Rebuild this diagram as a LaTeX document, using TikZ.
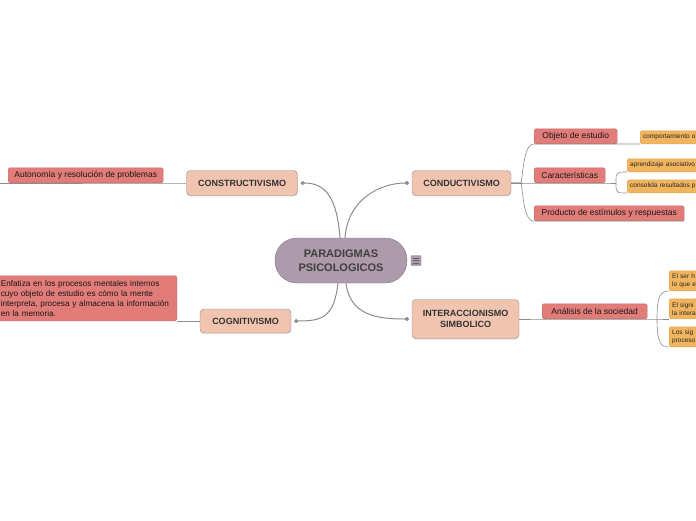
\documentclass[tikz,border=0pt]{standalone}
\usepackage{fontspec}
\setmainfont{Liberation Sans}
\usetikzlibrary{arrows.meta,shadows}
\definecolor{rootfill}{RGB}{173,154,170}
\definecolor{rootline}{RGB}{128,115,126}
\definecolor{topicfill}{RGB}{241,196,176}
\definecolor{subfill}{RGB}{226,124,121}
\definecolor{subline}{RGB}{205,105,105}
\definecolor{leaffill}{RGB}{241,181,96}
\definecolor{leafline}{RGB}{225,165,85}
\definecolor{wire}{RGB}{140,140,140}
\begin{document}
\begin{tikzpicture}[x=1pt,y=-1pt,
  root/.style={draw=rootline,fill=rootfill,rounded corners=22pt,minimum width=132,minimum height=45,align=center,text=black!75,font=\bfseries\fontsize{11}{14}\selectfont},
  topic/.style={draw=black!45,fill=topicfill,rounded corners=4pt,align=center,inner sep=0pt,text=black!80,font=\bfseries\fontsize{9}{11.5}\selectfont,drop shadow={shadow xshift=0pt,shadow yshift=-1.2pt,opacity=0.2}},
  subtopic/.style={draw=subline,fill=subfill,rounded corners=1.5pt,anchor=south west,inner sep=0pt,minimum height=15,text=black!90,font=\fontsize{8.5}{10}\selectfont},
  leaf/.style={draw=leafline,fill=leaffill,rounded corners=1.5pt,anchor=south west,inner ysep=0pt,inner xsep=3pt,minimum height=13,text width=70,align=left,text=black!85,font=\fontsize{6.5}{8}\selectfont},
  wire/.style={draw=wire,line width=0.6pt},
  trunk/.style={draw=wire,line width=1pt,-{Circle[length=4pt]},shorten >=3pt}]
\useasboundingbox (0,0) rectangle (696,520);
\clip (0,0) rectangle (696,520);

\node[root] (root) at (341,260.5) {PARADIGMAS\\PSICOLOGICOS};
\node[draw=rootline,fill=rootfill,minimum size=10,inner sep=0pt,rounded corners=1pt] (menu) at (416,260.5) {};
\foreach \dy in {-2.5,0,2.5}
  \draw[black!60,line width=0.6pt] ([xshift=-3pt,yshift=\dy pt]menu.center) -- ++(6,0);

\node[topic,minimum width=99,minimum height=25] (conduct) at (461.5,183) {CONDUCTIVISMO};
\node[topic,minimum width=111,minimum height=25] (constr) at (242,183) {CONSTRUCTIVISMO};
\node[topic,minimum width=91,minimum height=24] (cognit) at (245.5,321) {COGNITIVISMO};
\node[topic,minimum width=107,minimum height=39] (interac) at (465.5,319) {INTERACCIONISMO\\SIMBOLICO};

\node[subtopic,minimum width=83] (objeto) at (534,144) {Objeto de estudio};
\node[subtopic,minimum width=71] (caract) at (534,183) {Características};
\node[subtopic,minimum width=150] (producto) at (534,221) {Producto de estímulos y respuestas};
\node[subtopic,minimum width=105] (analisis) at (542,319) {Análisis de la sociedad};
\node[subtopic,minimum width=155] (autonomia) at (8,183) {Autonomía y resolución de problemas};
\node[subtopic,anchor=south east,align=left,text width=172,inner xsep=4pt,minimum height=45,font=\fontsize{8.2}{10}\selectfont] (enfatiza) at (177,321)
  {Enfatiza en los procesos mentales internos\\cuyo objeto de estudio es cómo la mente\\interpreta, procesa y almacena la información\\en la memoria.};

\node[leaf] (comport) at (640,144) {comportamiento o};
\node[leaf] (asoc) at (627,172) {aprendizaje asociativo};
\node[leaf] (consol) at (627,193) {consolida resultados p};
\node[leaf,minimum height=20] (ser) at (669,291) {El ser h\\lo que e};
\node[leaf,minimum height=20] (signi) at (669,319) {El signi\\la intera};
\node[leaf,minimum height=20] (sig) at (669,347) {Los sig\\proceso};

% ramas del centro
\draw[trunk] ([xshift=4pt]root.north) .. controls +(3,-40) and +(-30,0) .. (conduct.west);
\draw[trunk] ([xshift=-1pt]root.north) .. controls +(-3,-40) and +(28,0) .. (constr.east);
\draw[trunk] ([xshift=-3pt]root.south) .. controls +(-4,35) and +(30,0) .. (cognit.east);
\draw[trunk] ([xshift=5pt]root.south) .. controls +(4,32) and +(-35,0) .. (interac.west);

\coordinate (cfork) at (616,183);
\coordinate (ifork) at (657,319);
\coordinate (edge) at (0,183);
\draw[wire] (conduct.east) -- ++(10,0) .. controls +(3,-25) and +(-8,0) .. (objeto.south west) -- (objeto.south east) -- (comport.south west);
\draw[wire] (conduct.east) -- (caract.south west) -- (caract.south east) -- (cfork);
\draw[wire] (conduct.east) -- ++(10,0) .. controls +(3,25) and +(-8,0) .. (producto.south west) -- (producto.south east);
\draw[wire] (cfork) .. controls +(0,-11) .. (asoc.south west);
\draw[wire] (cfork) .. controls +(0,10) .. (consol.south west);

\draw[wire] (interac.east) -- (analisis.south west) -- (analisis.south east) -- (ifork) -- (signi.south west);
\draw[wire] (ifork) .. controls +(0,-24) and +(-8,0) .. (ser.south west);
\draw[wire] (ifork) .. controls +(0,24) and +(-8,0) .. (sig.south west);

\draw[wire] (constr.west) -- (autonomia.south east) -- (edge);
\draw[wire] (cognit.west) -- (enfatiza.south east);
\end{tikzpicture}
\end{document}
